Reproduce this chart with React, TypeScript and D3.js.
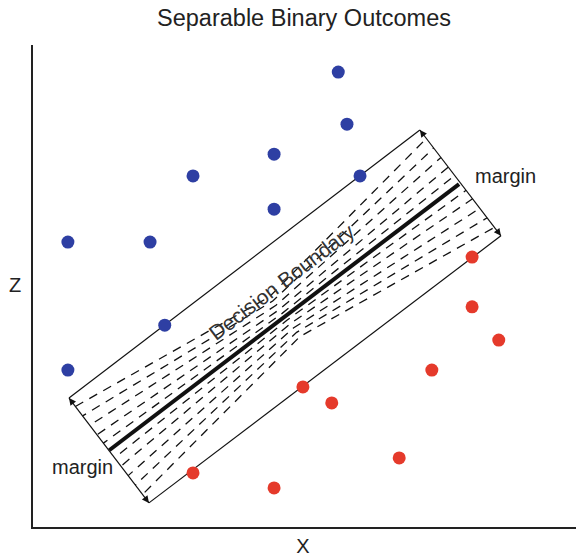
import React from 'react';
import * as d3 from 'd3';

// points (x, z in 0..10 units)
const blueX = [5.63, 5.79, 4.45, 2.96, 6.03, 4.45, 0.66, 2.17, 2.44, 0.66];
const blueZ = [9.44, 8.36, 7.74, 7.29, 7.29, 6.6, 5.92, 5.92, 4.2, 3.27];
const redX = [8.09, 8.09, 8.58, 7.35, 4.98, 5.51, 6.75, 2.96, 4.45];
const redZ = [5.61, 4.58, 3.89, 3.27, 2.92, 2.59, 1.45, 1.14, 0.83];

// margin band and boundary (start, end)
const upperMargin: [number, number][] = [[0.68, 2.69], [7.13, 8.24]];
const lowerMargin: [number, number][] = [[2.15, 0.52], [8.62, 6.05]];
const boundary: [number, number][] = [[1.42, 1.61], [7.85, 7.12]];

// where the dashed guide lines leave the band's short edges (0 = upper, 1 = lower)
const fanFractions = [0.08, 0.17, 0.26, 0.35, 0.43, 0.57, 0.65, 0.74, 0.83, 0.92];

const labelPos: [number, number] = [4.67, 4.97];

const width = 576;
const height = 559;
const font = "'Liberation Sans', Arial, Helvetica, sans-serif";

const App: React.FC = () => {
  const x = d3.scaleLinear().domain([0, 10]).range([32, 576]);
  const y = d3.scaleLinear().domain([0, 10]).range([528, 45]);

  const px = (p: [number, number]): [number, number] => [x(p[0]), y(p[1])];
  const lerp = (a: [number, number], b: [number, number], t: number): [number, number] => [
    a[0] + (b[0] - a[0]) * t,
    a[1] + (b[1] - a[1]) * t,
  ];

  const uS = px(upperMargin[0]), uE = px(upperMargin[1]);
  const lS = px(lowerMargin[0]), lE = px(lowerMargin[1]);
  const bS = px(boundary[0]), bE = px(boundary[1]);
  const cU = lerp(uS, uE, 0.5);
  const cL = lerp(lS, lE, 0.5);

  const line = d3.line();
  const angle = (Math.atan2(bE[1] - bS[1], bE[0] - bS[0]) * 180) / Math.PI;

  // bowtie of dashed lines pinching toward the middle of the boundary
  const fanPaths = fanFractions.map((f) => {
    const left = lerp(uS, lS, f);
    const mid = lerp(cU, cL, 0.5 + (f - 0.5) * 0.45);
    const right = lerp(uE, lE, f);
    return line([left, mid, right]) as string;
  });

  const [tx, ty] = px(labelPos);

  return (
    <svg width={width} height={height} style={{ position: 'absolute', left: 0, top: 0 }}>
      <defs>
        <marker id="arrow" viewBox="0 0 10 10" refX="10" refY="5" markerWidth="10" markerHeight="7"
          markerUnits="userSpaceOnUse" orient="auto-start-reverse">
          <path d="M0,0 L10,5 L0,10 z" fill="#111" />
        </marker>
      </defs>

      <text x={304} y={26} textAnchor="middle" fontFamily={font} fontSize={23.5} fill="#222">
        Separable Binary Outcomes
      </text>

      {/* axes */}
      <line x1={x(0)} y1={y(10)} x2={x(0)} y2={y(0) + 1} stroke="#222" strokeWidth={2} />
      <line x1={x(0) - 1} y1={y(0)} x2={x(10)} y2={y(0)} stroke="#222" strokeWidth={2} />
      <text x={15} y={292} textAnchor="middle" fontFamily={font} fontSize={20} fill="#222">Z</text>
      <text x={303} y={553} textAnchor="middle" fontFamily={font} fontSize={20} fill="#222">X</text>

      {/* dashed guides */}
      {fanPaths.map((d, i) => (
        <path key={i} d={d} fill="none" stroke="#111" strokeWidth={1.3} strokeDasharray="9,7"
          strokeDashoffset={(i * 5) % 16} />
      ))}

      {/* margin band */}
      <path d={line([uS, uE]) as string} stroke="#111" strokeWidth={1.2} fill="none" />
      <path d={line([lS, lE]) as string} stroke="#111" strokeWidth={1.2} fill="none" />
      <path d={line([uS, lS]) as string} stroke="#111" strokeWidth={1.2} fill="none"
        markerStart="url(#arrow)" markerEnd="url(#arrow)" />
      <path d={line([uE, lE]) as string} stroke="#111" strokeWidth={1.2} fill="none"
        markerStart="url(#arrow)" markerEnd="url(#arrow)" />
      <path d={line([bS, bE]) as string} stroke="#111" strokeWidth={4} fill="none" />

      <text x={tx} y={ty} textAnchor="middle" fontFamily={font} fontSize={21} fill="#333"
        transform={`rotate(${angle}, ${tx}, ${ty})`}>
        Decision Boundary
      </text>
      <text x={475} y={183} fontFamily={font} fontSize={20} fill="#222">margin</text>
      <text x={52} y={474} fontFamily={font} fontSize={20} fill="#222">margin</text>

      {blueX.map((v, i) => (
        <circle key={`b${i}`} cx={x(v)} cy={y(blueZ[i])} r={6.5} fill="#2e3fa3" />
      ))}
      {redX.map((v, i) => (
        <circle key={`r${i}`} cx={x(v)} cy={y(redZ[i])} r={6.5} fill="#e53a2b" />
      ))}
    </svg>
  );
};

export default App;
